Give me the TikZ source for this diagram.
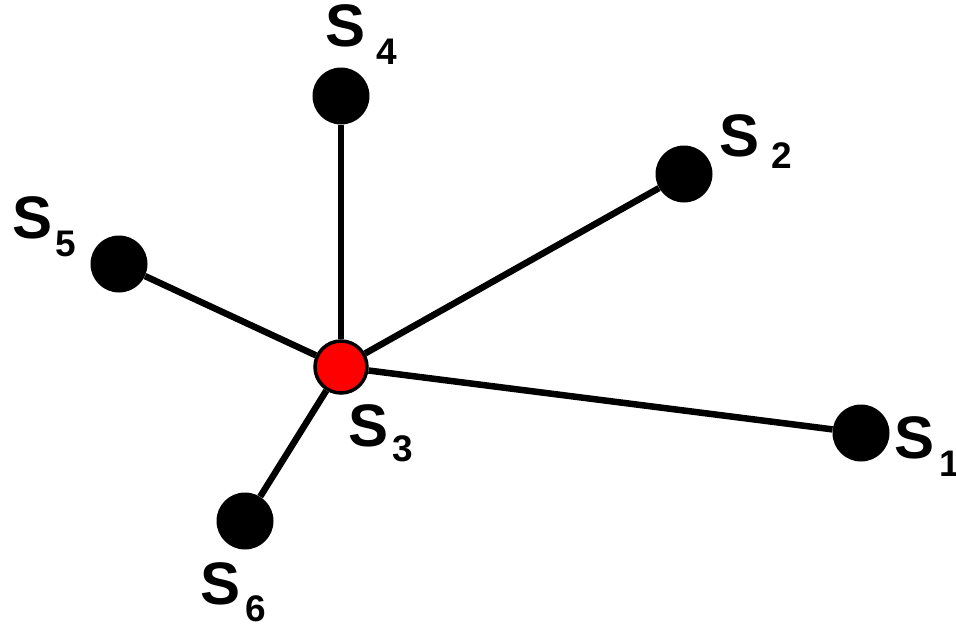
\documentclass[tikz,border=0pt]{standalone}
\usepackage{fontspec}
\setmainfont{Liberation Sans}
\newcommand{\slabel}[3]{S\hspace{#1}\raisebox{-#2}{\fontsize{37}{37}\selectfont #3}}
\begin{document}
\begin{tikzpicture}[x=1pt, y=-1pt,
  snode/.style={circle, fill=black, minimum size=57pt, inner sep=0pt},
  hub/.style={circle, draw=black, line width=3.5pt, fill=red, minimum size=52pt, inner sep=0pt},
  lbl/.style={anchor=base west, inner sep=0pt, font=\fontsize{60}{60}\selectfont\bfseries},
  edge/.style={line width=6.5pt, black}]
  \useasboundingbox (0,0) rectangle (956,629);
  % sensor nodes
  \node[hub] (s3) at (341,367) {};
  \node[snode] (s1) at (861,433) {};
  \node[snode] (s2) at (684,174) {};
  \node[snode] (s4) at (341,96) {};
  \node[snode] (s5) at (119,264) {};
  \node[snode] (s6) at (245,521) {};
  \draw[edge] (s3)--(s1); \draw[edge] (s3)--(s2); \draw[edge] (s3)--(s4);
  \draw[edge] (s3)--(s5); \draw[edge] (s3)--(s6);
  % labels
  \node[lbl] (l1) at (894,458) {\slabel{5pt}{18pt}{1}};
  \node[lbl] (l2) at (719,156) {\slabel{12pt}{12pt}{2}};
  \node[lbl] (l3) at (348,446) {\slabel{4pt}{15pt}{3}};
  \node[lbl] (l4) at (325,46) {\slabel{11pt}{18pt}{4}};
  \node[lbl] (l5) at (12,238) {\slabel{3pt}{18pt}{5}};
  \node[lbl] (l6) at (200,604) {\slabel{5pt}{17pt}{6}};
\end{tikzpicture}
\end{document}
